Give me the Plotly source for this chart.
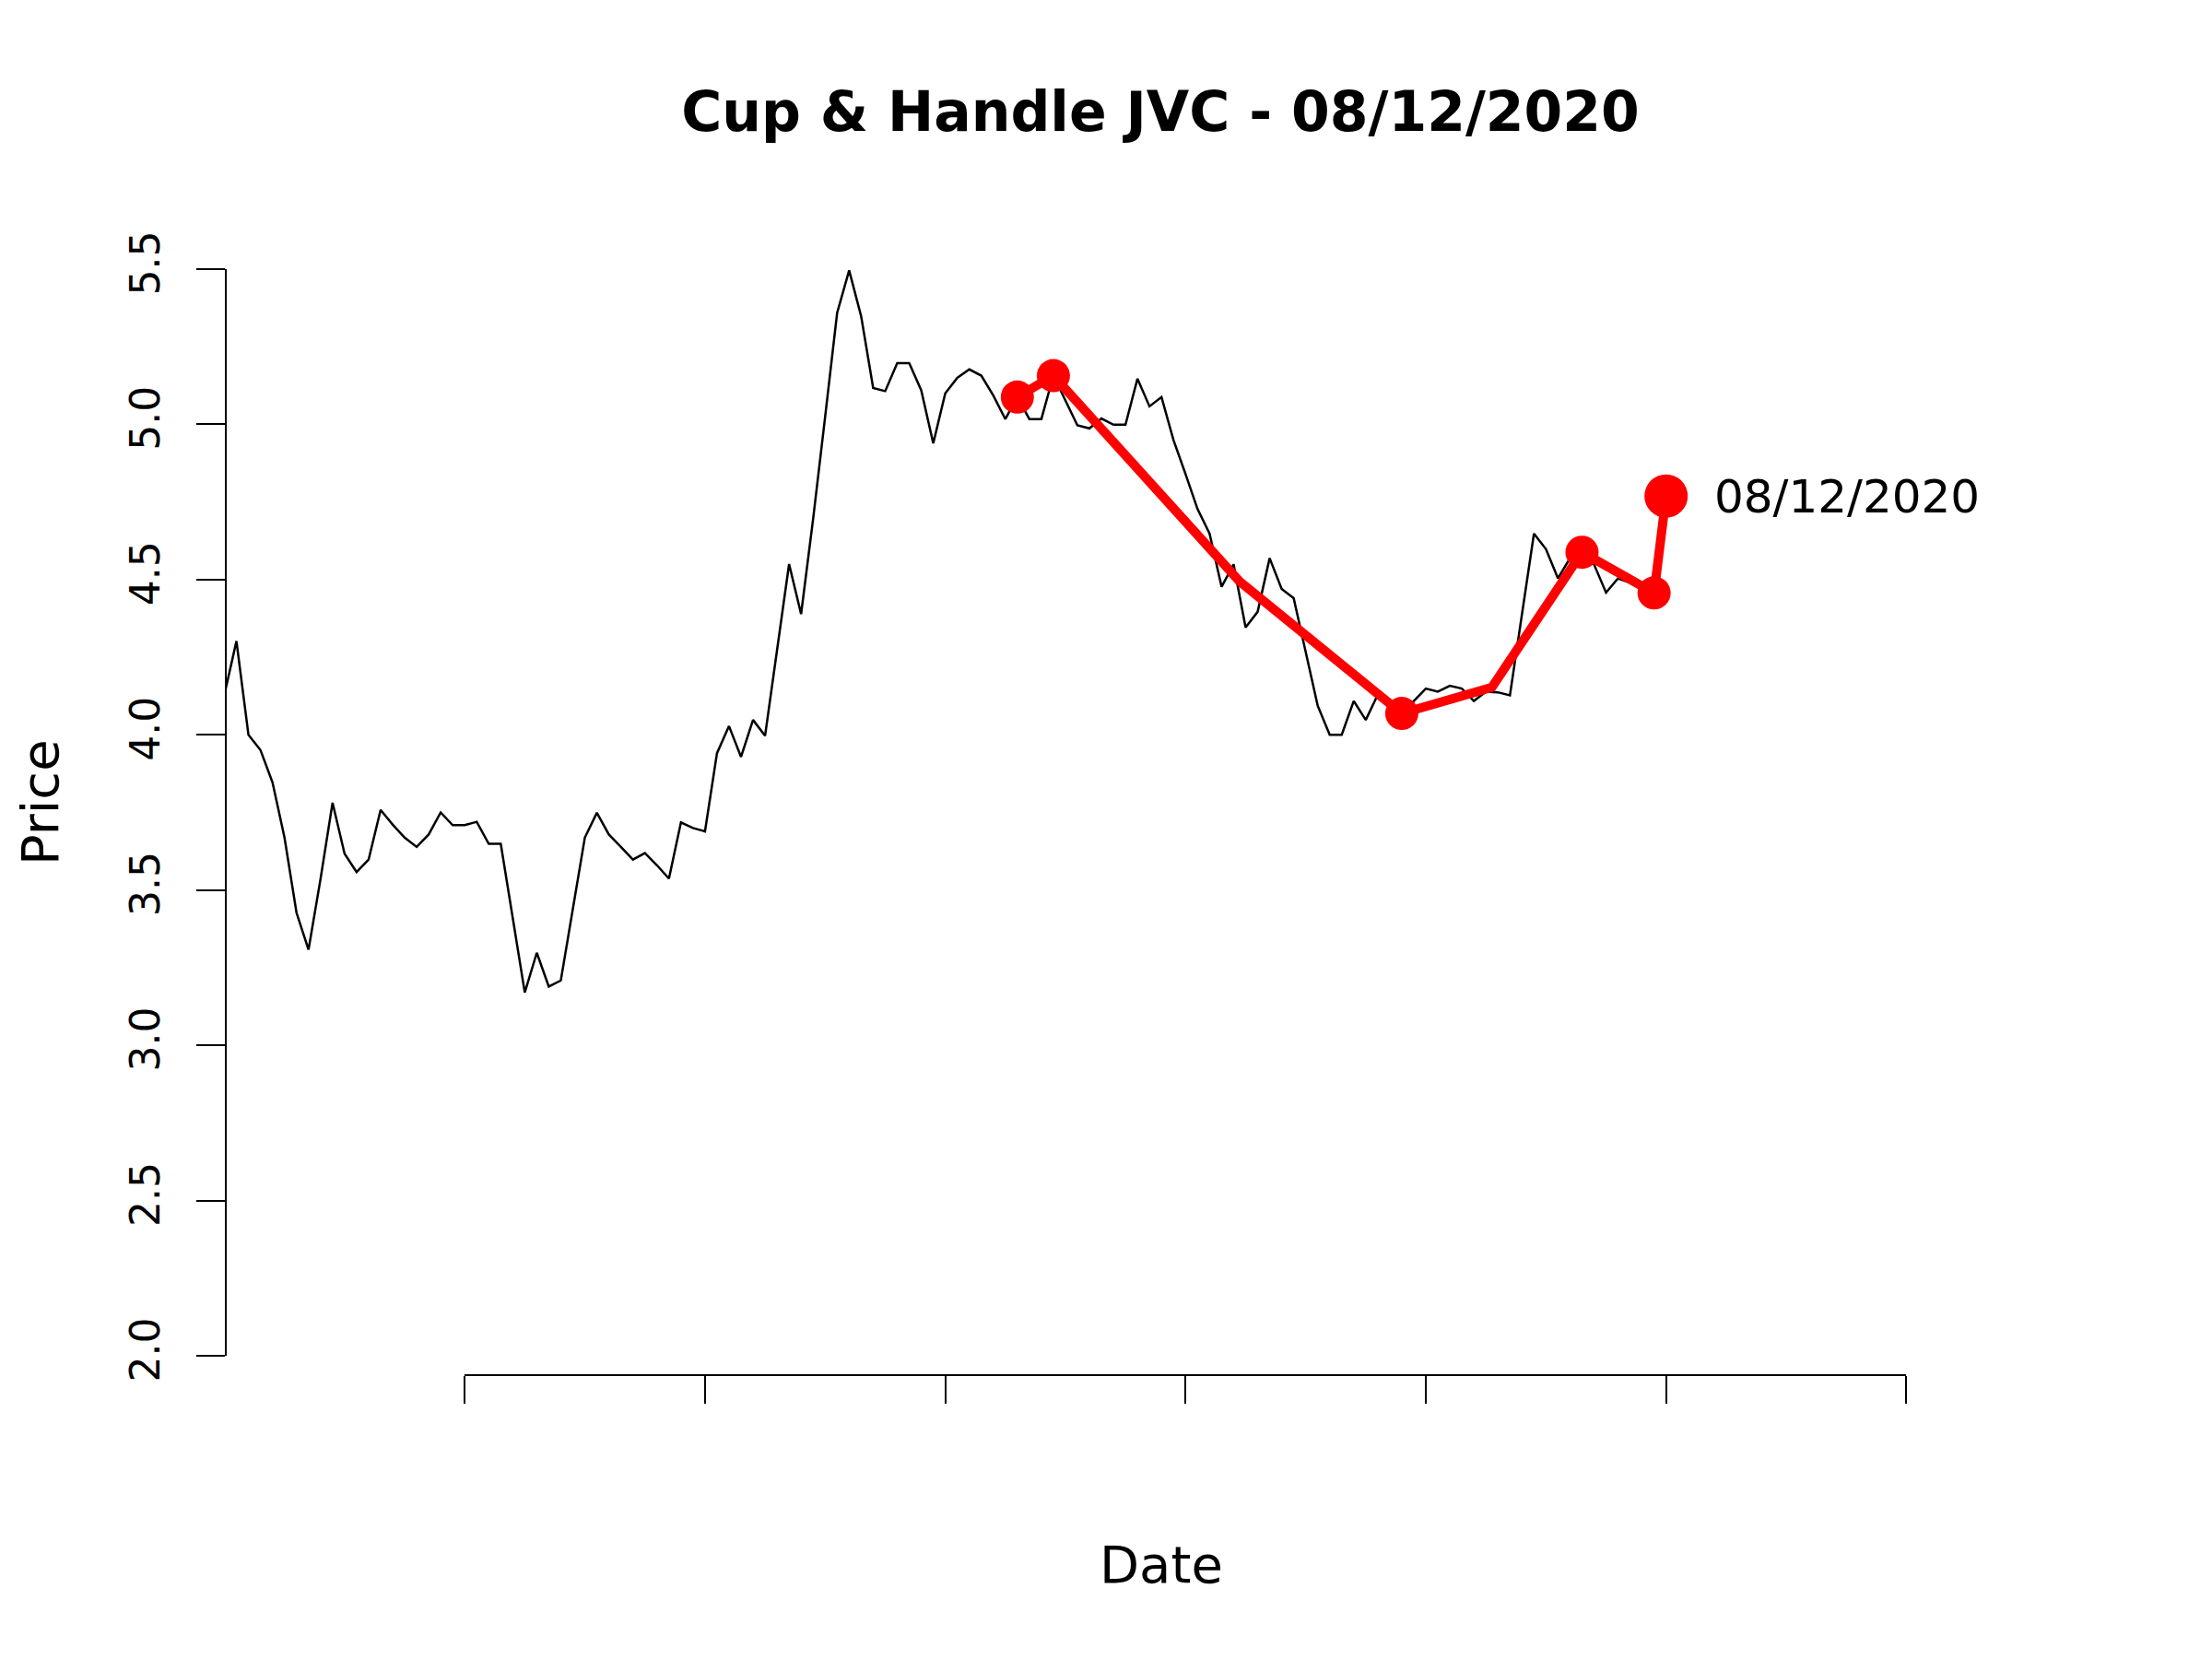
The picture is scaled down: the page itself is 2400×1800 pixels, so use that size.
import plotly.graph_objects as go

# ---- data ----
price = [
    4.13, 4.302, 4.00, 3.951, 3.847, 3.669, 3.427, 3.308, 3.536, 3.781,
    3.617, 3.558, 3.598, 3.758, 3.711, 3.669, 3.639, 3.679, 3.750, 3.709,
    3.709, 3.720, 3.649, 3.649, 3.410, 3.170, 3.298, 3.189, 3.209, 3.439,
    3.669, 3.749, 3.679, 3.639, 3.598, 3.619, 3.580, 3.537, 3.718, 3.700,
    3.689, 3.941, 4.028, 3.929, 4.048, 3.997, 4.275, 4.550, 4.389, 4.695,
    5.024, 5.359, 5.496, 5.348, 5.117, 5.107, 5.197, 5.197, 5.110, 4.939,
    5.100, 5.150, 5.177, 5.157, 5.093, 5.017, 5.088, 5.017, 5.017, 5.157,
    5.077, 4.997, 4.987, 5.019, 4.999, 4.999, 5.147, 5.058, 5.088, 4.949,
    4.840, 4.727, 4.648, 4.477, 4.549, 4.346, 4.396, 4.569, 4.470, 4.440,
    4.267, 4.094, 4.000, 4.000, 4.109, 4.048, 4.129, 4.099, 4.069, 4.109,
    4.149, 4.139, 4.158, 4.149, 4.109, 4.139, 4.137, 4.127, 4.386, 4.648,
    4.598, 4.504, 4.569, 4.588, 4.549, 4.458, 4.504, 4.490, 4.480, 4.457,
]
day_index = list(range(len(price)))

pattern_x = [66, 69, 84.5, 98, 105.5, 113, 119, 120]
pattern_y = [5.088, 5.157, 4.494, 4.069, 4.153, 4.588, 4.457, 4.769]
pattern_marked = [True, True, False, True, False, True, True, True]

y_ticks = [2.0, 2.5, 3.0, 3.5, 4.0, 4.5, 5.0, 5.5]
x_ticks = [20, 40, 60, 80, 100, 120, 140]

title_text = "Cup & Handle JVC - 08/12/2020"
last_label = "08/12/2020"

# ---- layout geometry (reference pixel coords, page body has 8px margin) ----
OFF = 8
W, H = 2400 - 2 * OFF, 1800 - 2 * OFF
PLOT_L, PLOT_R, PLOT_T, AXIS_Y = 246, 2100, 292, 1492   # in reference pixels
ML, MT = PLOT_L - OFF, PLOT_T - OFF
MR = W - (PLOT_R - OFF)
MB = H - (AXIS_Y - OFF)
PW, PH = W - ML - MR, H - MT - MB
X0_PX, X_STEP = 243.5, 13.035          # reference pixel of index 0, px per index
x_range = [(PLOT_L - X0_PX) / X_STEP, (PLOT_R - X0_PX) / X_STEP]
y_bottom_gap = 21                       # x axis line sits below the y=2.0 tick


def xfrac(v):
    return (v - x_range[0]) / (x_range[1] - x_range[0])


def px_to_paper_x(px):
    return (px - PLOT_L) / PW


def px_to_paper_y(py):
    return (AXIS_Y - py) / PH


FONT = "DejaVu Sans"

fig = go.Figure()

fig.add_trace(go.Scatter(
    x=day_index, y=price, mode="lines",
    line=dict(color="black", width=2.5),
    hoverinfo="skip", showlegend=False,
))

sizes = [(47 if i == len(pattern_x) - 1 else 36) if m else 0
         for i, m in enumerate(pattern_marked)]
fig.add_trace(go.Scatter(
    x=pattern_x, y=pattern_y, mode="lines+markers",
    line=dict(color="#FF0000", width=10),
    marker=dict(color="#FF0000", size=sizes, opacity=1, line=dict(width=0)),
    cliponaxis=False, showlegend=False,
))

# invisible trace to carry the visible (shorter) x axis
fig.add_trace(go.Scatter(
    x=[x_ticks[0], x_ticks[-1]], y=[None, None], xaxis="x2", yaxis="y",
    mode="markers", showlegend=False, hoverinfo="skip",
))

fig.add_annotation(
    x=pattern_x[-1], y=pattern_y[-1], xref="x", yref="y",
    text=last_label, showarrow=False, xanchor="left", yanchor="middle",
    xshift=50, yshift=-1, font=dict(family=FONT, size=50, color="black"),
)

fig.add_annotation(
    x=px_to_paper_x(43), y=px_to_paper_y(871), xref="paper", yref="paper",
    text="Price", showarrow=False, textangle=-90,
    xanchor="center", yanchor="middle", borderpad=0,
    font=dict(family=FONT, size=56, color="black"),
)
fig.add_annotation(
    x=px_to_paper_x(1260), y=px_to_paper_y(1697), xref="paper", yref="paper",
    text="Date", showarrow=False, xanchor="center", yanchor="middle",
    font=dict(family=FONT, size=56, color="black"),
)

fig.update_layout(
    width=W, height=H,
    margin=dict(l=ML, r=MR, t=MT, b=MB, pad=0),
    paper_bgcolor="white", plot_bgcolor="rgba(0,0,0,0)",
    title=dict(text=title_text, x=(1259 - OFF) / W, xref="container",
               xanchor="center",
               y=1 - (121 - OFF) / H, yref="container", yanchor="middle",
               font=dict(family=FONT, size=60, color="black", weight="bold")),
    xaxis=dict(range=x_range, visible=False, domain=[0, 1]),
    xaxis2=dict(range=[x_ticks[0], x_ticks[-1]],
                domain=[xfrac(x_ticks[0]), xfrac(x_ticks[-1])],
                anchor="free", position=0, showline=True, linecolor="black",
                linewidth=2, ticks="outside", ticklen=30, tickwidth=2,
                tickcolor="black", tickvals=x_ticks, showticklabels=False,
                showgrid=False, zeroline=False),
    yaxis=dict(range=[2.0, 5.5], domain=[y_bottom_gap / PH, 1],
               showline=True, linecolor="black", linewidth=2,
               ticks="outside", ticklen=31, tickwidth=2, tickcolor="black",
               tickvals=y_ticks, ticktext=[f"{v:.1f}" for v in y_ticks],
               tickangle=-90, tickfont=dict(family=FONT, size=44, color="black"),
               ticklabelstandoff=22,
               showgrid=False, zeroline=False),
)

fig.write_html("out.html")
